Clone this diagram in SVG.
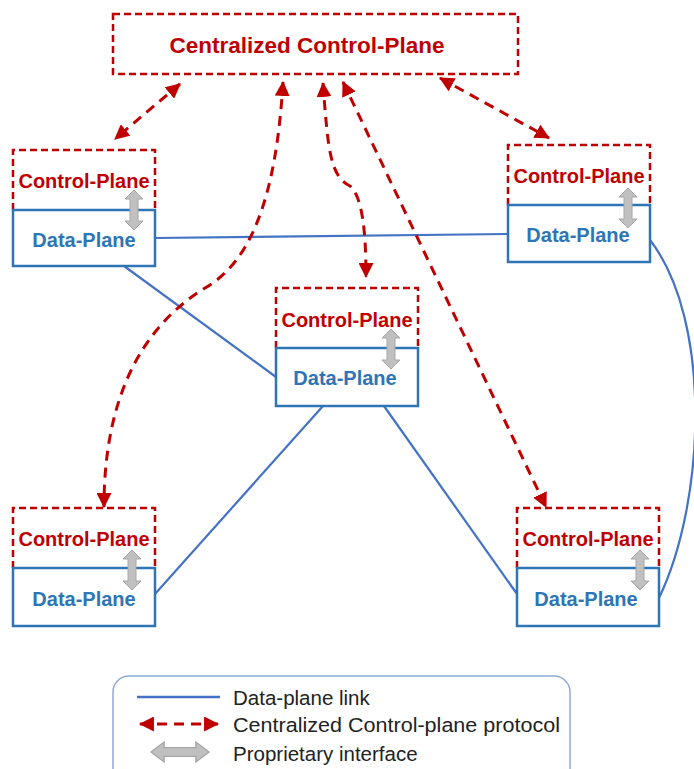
<svg xmlns="http://www.w3.org/2000/svg" width="694" height="769" viewBox="0 0 694 769">
<style>
  .ctrl{fill:#ffffff;stroke:#c00000;stroke-width:2.5;stroke-dasharray:7,4}
  .data{fill:#ffffff;stroke:#2e75b6;stroke-width:2.5}
  .ct{font-family:"Liberation Sans",Arial,sans-serif;font-weight:bold;font-size:20px;fill:#c00000;text-anchor:middle}
  .dt{font-family:"Liberation Sans",Arial,sans-serif;font-weight:bold;font-size:20px;fill:#2e75b6;text-anchor:middle}
  .link{fill:none;stroke:#4472c4;stroke-width:2.2}
  .proto{fill:none;stroke:#c00000;stroke-width:3;stroke-dasharray:10,7;marker-start:url(#ah);marker-end:url(#ah)}
  .grey{fill:#c0c0c0;stroke:#a6a6a6;stroke-width:1}
  .lt{font-family:"Liberation Sans",Arial,sans-serif;font-size:20.5px;fill:#222222}
</style>
<defs>
  <marker id="ah" viewBox="0 0 14 14" refX="13" refY="7" markerWidth="15" markerHeight="15" markerUnits="userSpaceOnUse" orient="auto-start-reverse">
    <path d="M0,0 L14,7 L0,14 z" fill="#c00000"/>
  </marker>
  <path id="garrow" d="M0,-20 L9,-11 L4,-11 L4,11 L9,11 L0,20 L-9,11 L-4,11 L-4,-11 L-9,-11 Z"/>
</defs>

<g id="connectors">
  <path class="link" d="M155,238 L508,234"/>
  <path class="link" d="M124,266 L276,377"/>
  <path class="link" d="M323,406 L155,594"/>
  <path class="link" d="M384,406 L517,594"/>
  <path class="link" d="M650,240 C712,320 706,500 659,598"/>
  <path class="proto" d="M180,84 L115,139"/>
  <path class="proto" d="M283,82 C276,200 250,262 205,288 C140,328 104,400 104,507"/>
  <path class="proto" d="M323,83 C328,150 330,176 350,186 C362,196 366,230 366,277"/>
  <path class="proto" d="M343,82 L546,507"/>
  <path class="proto" d="M440,78 L549,138"/>
</g>

<g id="central">
  <rect class="ctrl" x="113" y="14" width="405" height="60"/>
  <text class="ct" x="307" y="53" style="font-size:22.5px">Centralized Control-Plane</text>
</g>

<g id="node-tl">
  <path class="ctrl" d="M13,210 V150 H155 V210"/>
  <rect class="data" x="13" y="210" width="142" height="56"/>
  <text class="ct" x="84" y="188">Control-Plane</text>
  <text class="dt" x="84" y="247">Data-Plane</text>
  <use href="#garrow" class="grey" x="134" y="210"/>
</g>

<g id="node-tr">
  <path class="ctrl" d="M508,205 V145 H650 V205"/>
  <rect class="data" x="508" y="205" width="142" height="57"/>
  <text class="ct" x="579" y="183">Control-Plane</text>
  <text class="dt" x="578" y="242">Data-Plane</text>
  <use href="#garrow" class="grey" x="628" y="208"/>
</g>

<g id="node-center">
  <path class="ctrl" d="M276,348 V288 H418 V348"/>
  <rect class="data" x="276" y="348" width="142" height="58"/>
  <text class="ct" x="347" y="327">Control-Plane</text>
  <text class="dt" x="345" y="385">Data-Plane</text>
  <use href="#garrow" class="grey" x="391" y="349"/>
</g>

<g id="node-bl">
  <path class="ctrl" d="M13,568 V508 H155 V568"/>
  <rect class="data" x="13" y="568" width="142" height="58"/>
  <text class="ct" x="84" y="546">Control-Plane</text>
  <text class="dt" x="84" y="606">Data-Plane</text>
  <use href="#garrow" class="grey" x="132" y="570"/>
</g>

<g id="node-br">
  <path class="ctrl" d="M517,568 V508 H659 V568"/>
  <rect class="data" x="517" y="568" width="142" height="58"/>
  <text class="ct" x="588" y="546">Control-Plane</text>
  <text class="dt" x="586" y="606">Data-Plane</text>
  <use href="#garrow" class="grey" x="640" y="570"/>
</g>

<g id="legend">
  <rect x="113" y="676" width="457" height="120" rx="16" fill="#ffffff" stroke="#8faadc" stroke-width="1.5"/>
  <line x1="137" y1="697" x2="220" y2="697" stroke="#4472c4" stroke-width="2.5"/>
  <text class="lt" x="233" y="705">Data-plane link</text>
  <line x1="140" y1="724" x2="218" y2="724" stroke="#c00000" stroke-width="3" stroke-dasharray="10,7" marker-start="url(#ah)" marker-end="url(#ah)"/>
  <text class="lt" x="233" y="732" textLength="327" lengthAdjust="spacingAndGlyphs">Centralized Control-plane protocol</text>
  <use href="#garrow" class="grey" transform="translate(180,752) rotate(90) scale(1.1,1.45)"/>
  <text class="lt" x="233" y="761">Proprietary interface</text>
</g>
</svg>
